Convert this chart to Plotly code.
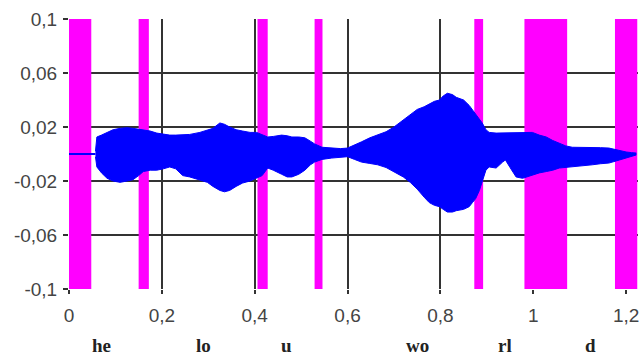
import plotly.graph_objects as go

# ---- data ----
band_start = [0.0, 0.150, 0.406, 0.529, 0.873, 0.981, 1.176]
band_end = [0.048, 0.172, 0.428, 0.546, 0.892, 1.073, 1.224]

lead_x = [0.0, 0.057]
lead_y = [0.0, 0.0]

wave_x = [0.057, 0.06, 0.07, 0.082, 0.095, 0.11, 0.125, 0.138, 0.15, 0.16, 0.175, 0.189,
          0.203, 0.217, 0.23, 0.245, 0.26, 0.282, 0.298, 0.31, 0.325, 0.335, 0.346, 0.36,
          0.374, 0.39, 0.404, 0.416, 0.428, 0.44, 0.458, 0.47, 0.48, 0.495, 0.508, 0.52,
          0.529, 0.545, 0.566, 0.585, 0.6, 0.615, 0.63, 0.648, 0.665, 0.683, 0.70, 0.72,
          0.735, 0.75, 0.765, 0.776, 0.787, 0.798, 0.806, 0.815, 0.826, 0.834, 0.85, 0.862,
          0.869, 0.876, 0.884, 0.89, 0.898, 0.905, 0.92, 0.934, 0.94, 0.95, 0.963, 0.977,
          0.998, 1.013, 1.028, 1.042, 1.056, 1.07, 1.084, 1.105, 1.127, 1.145, 1.163, 1.18,
          1.2, 1.212, 1.222]
wave_hi = [0.002, 0.0126, 0.014, 0.016, 0.018, 0.019, 0.0195, 0.019, 0.0185, 0.018, 0.017, 0.0155,
           0.0145, 0.014, 0.014, 0.014, 0.0145, 0.016, 0.0175, 0.019, 0.023, 0.022, 0.02, 0.018,
           0.017, 0.016, 0.016, 0.014, 0.0126, 0.013, 0.014, 0.0135, 0.0126, 0.0126, 0.012, 0.0095,
           0.0075, 0.005, 0.0044, 0.004, 0.0044, 0.007, 0.009, 0.012, 0.014, 0.0165, 0.02, 0.025,
           0.029, 0.033, 0.035, 0.037, 0.039, 0.04, 0.043, 0.045, 0.044, 0.042, 0.04, 0.036,
           0.0326, 0.029, 0.026, 0.023, 0.018, 0.016, 0.0155, 0.0155, 0.0155, 0.0155, 0.0155, 0.0155,
           0.016, 0.014, 0.0126, 0.010, 0.008, 0.006, 0.005, 0.005, 0.005, 0.0047, 0.0044, 0.003,
           0.0015, 0.001, 0.0007]
wave_lo = [-0.002, -0.0096, -0.014, -0.018, -0.020, -0.021, -0.020, -0.019, -0.016, -0.013, -0.012, -0.012,
           -0.011, -0.0096, -0.011, -0.016, -0.017, -0.019, -0.021, -0.024, -0.027, -0.028, -0.027, -0.024,
           -0.0215, -0.020, -0.018, -0.016, -0.0104, -0.012, -0.015, -0.017, -0.017, -0.015, -0.012, -0.008,
           -0.006, -0.004, -0.003, -0.0025, -0.002, -0.004, -0.006, -0.007, -0.008, -0.010, -0.013, -0.017,
           -0.021, -0.026, -0.032, -0.036, -0.038, -0.039, -0.041, -0.043, -0.043, -0.042, -0.041, -0.039,
           -0.036, -0.033, -0.027, -0.020, -0.012, -0.0096, -0.0104, -0.006, -0.0044, -0.010, -0.017, -0.018,
           -0.0155, -0.014, -0.013, -0.012, -0.0104, -0.010, -0.0096, -0.009, -0.008, -0.0072, -0.0067, -0.005,
           -0.003, -0.0015, -0.0007]

x_ticks = [0, 0.2, 0.4, 0.6, 0.8, 1.0, 1.2]
x_tick_text = ["0", "0,2", "0,4", "0,6", "0,8", "1", "1,2"]
y_ticks = [0.1, 0.06, 0.02, -0.02, -0.06, -0.1]
y_tick_text = ["0,1", "0,06", "0,02", "-0,02", "-0,06", "-0,1"]

syllables = ["he", "lo", "u", "wo", "rl", "d"]
syllable_x = [0.071, 0.29, 0.469, 0.75, 0.94, 1.123]

BLUE = "#0000ff"
MAGENTA = "#ff00ff"

fig = go.Figure()

fig.add_trace(go.Scatter(x=wave_x, y=wave_lo, mode="lines",
                         line=dict(color=BLUE, width=1), hoverinfo="skip"))
fig.add_trace(go.Scatter(x=wave_x, y=wave_hi, mode="lines", fill="tonexty",
                         fillcolor=BLUE, line=dict(color=BLUE, width=1), hoverinfo="skip"))
fig.add_trace(go.Scatter(x=lead_x, y=lead_y, mode="lines",
                         line=dict(color=BLUE, width=2), hoverinfo="skip"))

for s, e in zip(band_start, band_end):
    fig.add_shape(type="rect", xref="x", yref="y", x0=s, x1=e, y0=-0.1, y1=0.1,
                  fillcolor=MAGENTA, line=dict(width=0), layer="between")

for t, xv in zip(syllables, syllable_x):
    fig.add_annotation(x=xv, xref="x", y=-0.211, yref="paper", text="<b>%s</b>" % t,
                       showarrow=False, yanchor="middle", xanchor="center",
                       font=dict(family="Liberation Serif", size=19, color="#222"))

tick_font = dict(family="Liberation Sans", size=19, color="#444")

fig.update_xaxes(range=[0, 1.2256], tickvals=x_ticks, ticktext=x_tick_text,
                 showgrid=True, gridcolor="#333", gridwidth=1.5, zeroline=False,
                 showline=False, ticks="outside", ticklen=4, tickcolor="#333",
                 tickwidth=1.5, tickfont=tick_font, ticklabelstandoff=5, automargin=False)
fig.update_yaxes(range=[-0.1, 0.1], tickvals=y_ticks, ticktext=y_tick_text,
                 showgrid=True, gridcolor="#333", gridwidth=1.5, zeroline=False,
                 showline=False, ticks="outside", ticklen=5, tickcolor="#333",
                 tickwidth=1.5, tickfont=tick_font, ticklabelstandoff=2, automargin=False)

fig.update_layout(width=644, height=357, margin=dict(l=69, r=6, t=19, b=68),
                  paper_bgcolor="white", plot_bgcolor="white", showlegend=False)

fig.write_html("out.html", config={"displayModeBar": False},
               post_script="document.body.style.margin='0px';document.body.style.overflow='hidden';")
